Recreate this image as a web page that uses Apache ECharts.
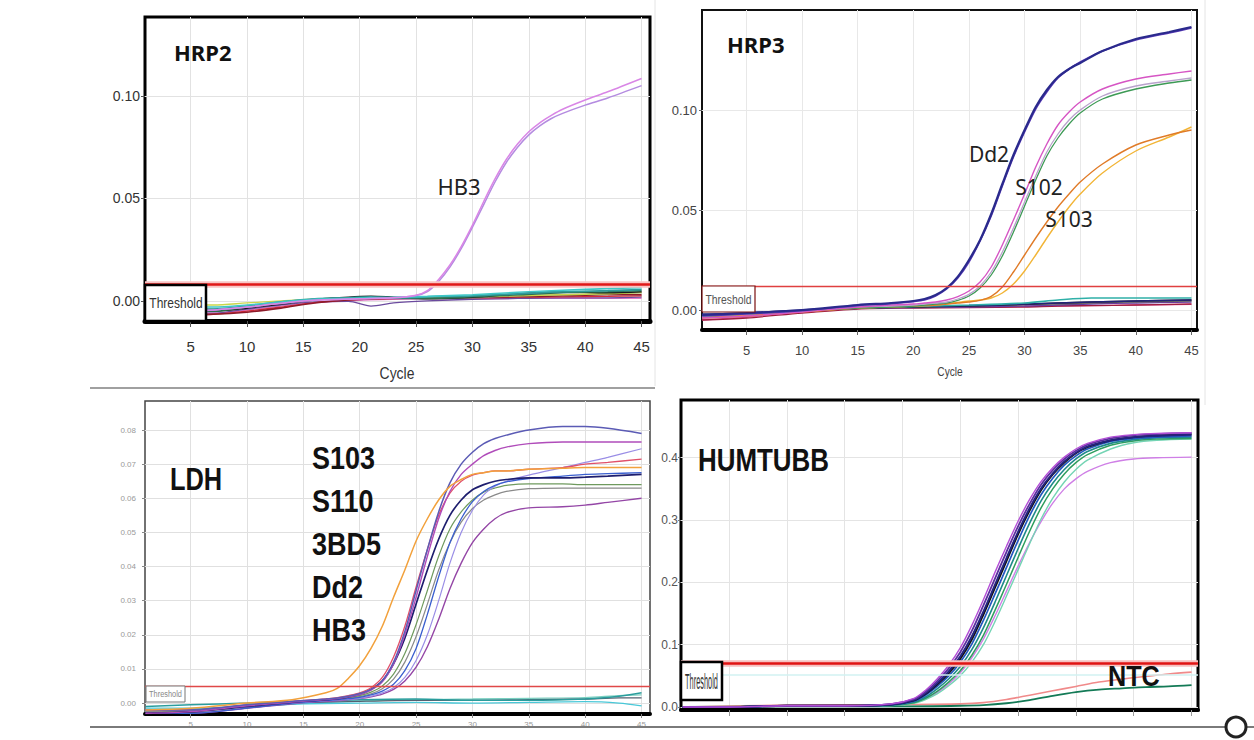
<!DOCTYPE html>
<html><head><meta charset="utf-8">
<script src="https://cdn.jsdelivr.net/npm/echarts@6.0.0/dist/echarts.min.js"></script>
<style>html,body{margin:0;padding:0;background:#fff}#c{width:1254px;height:740px}</style>
</head><body><div id="c"></div>
<script>
// ---------------- shared ----------------
const cycleTicks = [5, 10, 15, 20, 25, 30, 35, 40, 45];
const panelTitles = ['HRP2', 'HRP3', 'LDH', 'HUMTUBB'];
const ldhStrains = ['S103', 'S110', '3BD5', 'Dd2', 'HB3'];

// ---------------- HRP2 ----------------
const hrp2YTicks = [0, 0.05, 0.10];
const hrp2Threshold = 0.008;
const hrp2Cycles = [1, 5, 10, 15, 20, 23, 25, 26, 27, 28, 29, 30, 31, 32, 33, 34, 35, 36, 37, 38, 40, 42, 45];
const hrp2HB3a = [-0.005, -0.005, -0.003, 0.000, 0.001, 0.0015, 0.0028, 0.005, 0.0105, 0.0175, 0.0265, 0.037, 0.0485, 0.0595, 0.069, 0.0765, 0.0825, 0.087, 0.0905, 0.0935, 0.098, 0.102, 0.1085];
const hrp2HB3b = [-0.005, -0.005, -0.003, 0.000, 0.001, 0.0015, 0.0026, 0.0045, 0.0095, 0.0165, 0.0255, 0.036, 0.047, 0.058, 0.0675, 0.075, 0.081, 0.0855, 0.089, 0.0915, 0.0955, 0.099, 0.105];
const hrp2BaseCycles = [1, 7, 10, 13, 16, 19, 21, 23, 26, 30, 34, 38, 42, 45];
const hrp2YellowGreen = [-0.002, -0.002, -0.001, 0.0, 0.0008, 0.001, 0.0012, 0.0015, 0.0015, 0.002, 0.0025, 0.003, 0.0035, 0.004];
const hrp2Teal = [-0.004, -0.004, -0.0025, -0.0005, 0.001, 0.0015, 0.002, 0.0015, 0.002, 0.0025, 0.0035, 0.0045, 0.005, 0.0055];
const hrp2Cyan = [-0.003, -0.003, -0.002, -0.0005, 0.0008, 0.0012, 0.0015, 0.0018, 0.0022, 0.003, 0.0042, 0.0052, 0.006, 0.0065];
const hrp2DarkGreen = [-0.005, -0.005, -0.003, -0.001, 0.0008, 0.0015, 0.0018, 0.0015, 0.0012, 0.002, 0.003, 0.004, 0.0045, 0.005];
const hrp2Black = [-0.005, -0.005, -0.0035, -0.0015, 0.0005, 0.0018, 0.0022, 0.0018, 0.0012, 0.0018, 0.0035, 0.0045, 0.004, 0.0045];
const hrp2Gray = [-0.004, -0.004, -0.003, -0.001, 0.0008, 0.0015, 0.0015, 0.0012, 0.001, 0.0015, 0.0025, 0.003, 0.0035, 0.004];
const hrp2DarkRed = [-0.007, -0.0065, -0.0055, -0.0035, -0.001, 0.0005, 0.001, 0.0012, 0.0015, 0.0018, 0.002, 0.0025, 0.003, 0.003];
const hrp2Red = [-0.007, -0.0065, -0.005, -0.003, -0.0008, 0.0005, 0.001, 0.0012, 0.0015, 0.0015, 0.0018, 0.002, 0.0022, 0.0025];
const hrp2Purple = [-0.006, -0.006, -0.004, -0.002, -0.0005, -0.0002, -0.0025, -0.001, 0.0, 0.0008, 0.0012, 0.0015, 0.0015, 0.0018];
const hrp2Pink = [-0.006, -0.006, -0.0045, -0.0025, -0.0008, 0.0, 0.0005, 0.0008, 0.001, 0.001, 0.0012, 0.0012, 0.0012, 0.0012];

// ---------------- HRP3 ----------------
const hrp3YTicks = [0, 0.05, 0.10];
const hrp3Threshold = 0.012;
const hrp3Cycles = [1, 5, 10, 15, 18, 20, 21, 22, 23, 24, 25, 26, 27, 28, 29, 30, 31, 32, 33, 34, 35, 37, 40, 43, 45];
const hrp3Dd2a = [-0.0025, -0.0015, 0.0, 0.0025, 0.0035, 0.0045, 0.0055, 0.0075, 0.011, 0.0167, 0.025, 0.035, 0.048, 0.063, 0.0775, 0.090, 0.1015, 0.110, 0.1165, 0.1205, 0.1235, 0.1295, 0.1355, 0.139, 0.1415];
const hrp3Dd2b = [-0.003, -0.002, -0.0003, 0.0022, 0.0032, 0.0042, 0.005, 0.007, 0.0105, 0.016, 0.024, 0.0345, 0.047, 0.062, 0.0765, 0.089, 0.1005, 0.109, 0.116, 0.1205, 0.124, 0.1295, 0.135, 0.1385, 0.141];
const hrp3S102a = [-0.004, -0.003, -0.001, 0.0015, 0.0025, 0.003, 0.0035, 0.004, 0.005, 0.0067, 0.0095, 0.014, 0.0215, 0.0325, 0.045, 0.058, 0.0715, 0.083, 0.0925, 0.099, 0.104, 0.1105, 0.1155, 0.118, 0.1195];
const hrp3S102b = [-0.003, -0.002, -0.0005, 0.0015, 0.002, 0.0025, 0.003, 0.0035, 0.004, 0.0055, 0.0078, 0.012, 0.019, 0.029, 0.041, 0.054, 0.067, 0.079, 0.088, 0.095, 0.1, 0.107, 0.112, 0.1145, 0.116];
const hrp3S102c = [-0.003, -0.002, -0.0005, 0.001, 0.0015, 0.002, 0.0025, 0.003, 0.0035, 0.0048, 0.007, 0.011, 0.0175, 0.027, 0.039, 0.052, 0.065, 0.077, 0.086, 0.093, 0.0985, 0.1055, 0.1105, 0.1135, 0.115];
const hrp3S103a = [-0.004, -0.003, -0.001, 0.001, 0.0015, 0.002, 0.0022, 0.0025, 0.003, 0.0035, 0.004, 0.0048, 0.0068, 0.0115, 0.019, 0.0275, 0.036, 0.044, 0.0515, 0.058, 0.064, 0.073, 0.0825, 0.0875, 0.090];
const hrp3S103b = [-0.003, -0.0025, -0.0008, 0.001, 0.0015, 0.002, 0.0022, 0.0025, 0.003, 0.0038, 0.0045, 0.005, 0.006, 0.0085, 0.013, 0.0195, 0.0275, 0.036, 0.044, 0.0515, 0.058, 0.0685, 0.0795, 0.0865, 0.0915];
const hrp3BaseCycles = [1, 5, 10, 15, 20, 25, 30, 33, 36, 40, 45];
const hrp3Teal = [-0.003, -0.002, -0.0005, 0.001, 0.0018, 0.0025, 0.0035, 0.005, 0.006, 0.006, 0.006];
const hrp3Black = [-0.003, -0.002, -0.0005, 0.001, 0.0015, 0.002, 0.0028, 0.0035, 0.004, 0.0045, 0.005];
const hrp3Gray = [-0.003, -0.002, -0.0005, 0.0008, 0.0015, 0.002, 0.0028, 0.003, 0.0035, 0.004, 0.0045];
const hrp3DarkRed = [-0.005, -0.004, -0.0015, 0.0005, 0.001, 0.0012, 0.0015, 0.002, 0.0022, 0.0025, 0.003];
const hrp3Purple = [-0.0035, -0.0025, -0.0008, 0.0008, 0.0012, 0.0015, 0.002, 0.0025, 0.003, 0.0035, 0.004];
const hrp3Pink = [-0.005, -0.0035, -0.0012, 0.0008, 0.0015, 0.0015, 0.0018, 0.002, 0.0022, 0.0025, 0.0028];
const hrp3Navy = [-0.002, -0.0015, 0.0, 0.0012, 0.0018, 0.0022, 0.003, 0.0035, 0.004, 0.0045, 0.005];

// ---------------- LDH ----------------
const ldhYTicks = [0, 0.01, 0.02, 0.03, 0.04, 0.05, 0.06, 0.07, 0.08];
const ldhThreshold = 0.005;
const ldhCycles = [1, 5, 10, 14, 17, 18, 19, 20, 21, 22, 23, 24, 25, 26, 27, 28, 29, 30, 31, 32, 33, 35, 38, 40, 42, 45];
const ldhOrange = [-0.002, -0.0015, 0.0, 0.001, 0.003, 0.0043, 0.0073, 0.011, 0.016, 0.0225, 0.031, 0.039, 0.0475, 0.054, 0.0595, 0.0635, 0.0655, 0.067, 0.0675, 0.068, 0.068, 0.0685, 0.0688, 0.069, 0.069, 0.069];
const ldhTopBlue = [-0.002, -0.002, -0.0005, 0.0005, 0.0012, 0.0015, 0.002, 0.0028, 0.004, 0.0065, 0.012, 0.021, 0.033, 0.045, 0.056, 0.0645, 0.070, 0.0735, 0.076, 0.0775, 0.0785, 0.080, 0.081, 0.081, 0.0805, 0.079];
const ldhMagenta = [-0.003, -0.0025, -0.0008, 0.0003, 0.001, 0.0013, 0.0018, 0.0025, 0.0038, 0.0062, 0.0115, 0.02, 0.031, 0.043, 0.054, 0.062, 0.067, 0.070, 0.0725, 0.074, 0.075, 0.076, 0.0765, 0.0765, 0.0765, 0.0765];
const ldhRedPink = [-0.002, -0.002, -0.0005, 0.0005, 0.0012, 0.0016, 0.0022, 0.003, 0.0045, 0.0075, 0.0135, 0.0225, 0.034, 0.045, 0.055, 0.0615, 0.065, 0.0668, 0.0675, 0.068, 0.068, 0.0685, 0.069, 0.070, 0.0705, 0.0715];
const ldhNavy = [-0.003, -0.0025, -0.001, 0.0003, 0.001, 0.0013, 0.0018, 0.0026, 0.004, 0.0065, 0.0115, 0.019, 0.029, 0.039, 0.048, 0.055, 0.0595, 0.0625, 0.064, 0.065, 0.0655, 0.066, 0.066, 0.0662, 0.0665, 0.067];
const ldhBlue = [-0.003, -0.003, -0.0015, 0.0, 0.0008, 0.001, 0.0013, 0.0017, 0.0024, 0.0035, 0.0055, 0.0095, 0.016, 0.026, 0.037, 0.047, 0.054, 0.059, 0.062, 0.0638, 0.0648, 0.0658, 0.0665, 0.067, 0.0672, 0.0675];
const ldhLavender = [-0.002, -0.002, -0.001, 0.0, 0.0007, 0.0009, 0.0011, 0.0014, 0.002, 0.003, 0.0045, 0.0075, 0.0125, 0.02, 0.03, 0.041, 0.05, 0.0565, 0.061, 0.0635, 0.065, 0.0668, 0.069, 0.0705, 0.072, 0.0745];
const ldhOlive = [-0.002, -0.002, -0.0008, 0.0003, 0.001, 0.0012, 0.0016, 0.0022, 0.0032, 0.005, 0.0085, 0.0145, 0.023, 0.033, 0.043, 0.051, 0.056, 0.0595, 0.0618, 0.063, 0.0638, 0.0642, 0.0642, 0.064, 0.064, 0.064];
const ldhGray = [-0.0025, -0.0025, -0.001, 0.0, 0.0008, 0.001, 0.0014, 0.0019, 0.0027, 0.0042, 0.007, 0.012, 0.0195, 0.029, 0.039, 0.047, 0.053, 0.057, 0.0595, 0.061, 0.062, 0.0628, 0.063, 0.063, 0.063, 0.063];
const ldhPurple = [-0.003, -0.003, -0.0015, -0.0002, 0.0005, 0.0007, 0.001, 0.0013, 0.0018, 0.0026, 0.004, 0.0065, 0.0105, 0.0165, 0.0245, 0.0335, 0.041, 0.047, 0.051, 0.054, 0.0558, 0.0572, 0.0575, 0.058, 0.0588, 0.060];
const ldhBaseCycles = [1, 5, 10, 15, 20, 25, 30, 35, 40, 43, 45];
const ldhTeal = [-0.001, -0.0005, 0.0, 0.0005, 0.001, 0.0012, 0.0008, 0.0008, 0.0012, 0.002, 0.003];
const ldhCyan = [-0.0015, -0.0015, -0.001, -0.0002, 0.0, 0.0002, 0.0, 0.0002, 0.0004, 0.0, -0.0008];
const ldhDarkGray = [-0.002, -0.0018, -0.001, 0.0, 0.0005, 0.0008, 0.0008, 0.001, 0.0012, 0.0015, 0.0015];
const ldhLightTeal = [-0.0025, -0.002, -0.0012, 0.0, 0.0006, 0.001, 0.0012, 0.0014, 0.0016, 0.0022, 0.0024];

// ---------------- HUMTUBB ----------------
const humYTicks = [0, 0.1, 0.2, 0.3, 0.4];
const humThreshold = 0.07;
const humPaleLine = 0.052;
const humCycles = [1, 5, 10, 15, 19, 21, 22, 23, 24, 25, 26, 27, 28, 29, 30, 31, 32, 33, 34, 35, 36, 38, 40, 42, 45];
const humViolet = [0, 0, 0.002, 0.002, 0.005, 0.014, 0.027, 0.045, 0.067, 0.095, 0.131, 0.172, 0.216, 0.258, 0.298, 0.333, 0.362, 0.384, 0.401, 0.414, 0.423, 0.433, 0.437, 0.439, 0.44];
const humPurple = [0, 0, 0.002, 0.002, 0.0045, 0.0125, 0.0245, 0.0415, 0.062, 0.088, 0.122, 0.163, 0.206, 0.249, 0.29, 0.326, 0.357, 0.38, 0.398, 0.411, 0.421, 0.431, 0.436, 0.438, 0.44];
const humNavy = [0, 0, 0.002, 0.002, 0.004, 0.011, 0.022, 0.038, 0.057, 0.081, 0.113, 0.153, 0.196, 0.239, 0.281, 0.319, 0.351, 0.375, 0.394, 0.408, 0.418, 0.428, 0.433, 0.435, 0.437];
const humBlack = [0, 0, 0.002, 0.002, 0.0038, 0.0105, 0.021, 0.036, 0.054, 0.077, 0.108, 0.148, 0.191, 0.234, 0.277, 0.315, 0.348, 0.373, 0.392, 0.407, 0.417, 0.428, 0.433, 0.436, 0.438];
const humBlue = [0, 0, 0.002, 0.002, 0.0035, 0.0095, 0.019, 0.033, 0.05, 0.072, 0.101, 0.139, 0.181, 0.224, 0.267, 0.307, 0.341, 0.367, 0.388, 0.403, 0.414, 0.426, 0.431, 0.433, 0.435];
const humTeal = [0, 0, 0.002, 0.002, 0.003, 0.008, 0.016, 0.029, 0.045, 0.065, 0.092, 0.127, 0.168, 0.211, 0.254, 0.295, 0.331, 0.359, 0.381, 0.398, 0.41, 0.423, 0.429, 0.432, 0.433];
const humGreen = [0, 0, 0.002, 0.002, 0.0028, 0.007, 0.014, 0.025, 0.04, 0.058, 0.083, 0.115, 0.155, 0.197, 0.24, 0.282, 0.32, 0.35, 0.374, 0.392, 0.405, 0.42, 0.427, 0.43, 0.431];
const humLightCyan = [0, 0, 0.002, 0.002, 0.0025, 0.006, 0.012, 0.021, 0.034, 0.05, 0.072, 0.1, 0.137, 0.178, 0.22, 0.262, 0.302, 0.335, 0.361, 0.381, 0.396, 0.414, 0.424, 0.428, 0.43];
const humLilac = [0, 0, 0.002, 0.002, 0.003, 0.007, 0.013, 0.023, 0.037, 0.055, 0.079, 0.109, 0.146, 0.186, 0.226, 0.264, 0.298, 0.327, 0.35, 0.366, 0.378, 0.392, 0.398, 0.4, 0.401];
const ntcCycles = [1, 10, 20, 25, 27, 29, 31, 33, 35, 37, 39, 41, 43, 45];
const ntcPink = [0.0, 0.003, 0.004, 0.005, 0.007, 0.012, 0.019, 0.026, 0.033, 0.040, 0.045, 0.049, 0.053, 0.056];
const ntcGreen = [0.0, 0.001, 0.001, 0.002, 0.003, 0.006, 0.011, 0.018, 0.024, 0.028, 0.030, 0.032, 0.033, 0.035];

// ---------------- build ----------------
const NARROW = "'Liberation Sans Narrow','Liberation Sans',Arial,sans-serif";
const SANS = "'Noto Sans','Open Sans',sans-serif";

function line(gi, xs, ys, color, width, z) {
  return {
    type: 'line', xAxisIndex: gi, yAxisIndex: gi,
    data: xs.map((x, i) => [x, ys[i]]),
    symbol: 'none', showSymbol: false, smooth: 0.3,
    clip: true, silent: true, animation: false, z: z || 2,
    lineStyle: { color: color, width: width || 1.3 }
  };
}
function thr(gi, value, color, width, glow, extra) {
  const d = [];
  if (extra) d.push({ yAxis: extra.value, lineStyle: { color: extra.color, width: extra.width, type: 'solid' } });
  if (glow) d.push({ yAxis: value, lineStyle: { color: glow, width: width + 4, type: 'solid' } });
  d.push({ yAxis: value, lineStyle: { color: color, width: width, type: 'solid' } });
  return {
    type: 'line', xAxisIndex: gi, yAxisIndex: gi, data: [], z: 3, silent: true, animation: false,
    markLine: { symbol: ['none', 'none'], precision: 5, silent: true, animation: false, label: { show: false }, data: d }
  };
}
function xAx(gi, min, max, o) {
  return {
    type: 'value', gridIndex: gi, min: min, max: max, splitNumber: 9,
    axisLine: { show: true, onZero: false, lineStyle: { color: '#000', width: o.lw } },
    axisTick: { show: true, customValues: cycleTicks, length: o.tl, lineStyle: { color: o.tc, width: 1 } },
    axisLabel: { show: o.show, customValues: cycleTicks, fontSize: o.fs, color: o.lc, margin: o.m, fontFamily: NARROW },
    splitLine: { show: true, lineStyle: { color: o.gc, width: 1 } }
  };
}
function yAx(gi, min, max, split, ticks, o) {
  return {
    type: 'value', gridIndex: gi, min: min, max: max, splitNumber: split,
    axisLine: { show: false },
    axisTick: { show: true, customValues: ticks, length: o.tl, lineStyle: { color: o.tc, width: 1 } },
    axisLabel: { show: true, customValues: ticks, fontSize: o.fs, color: o.lc, margin: o.m, fontFamily: NARROW,
      formatter: v => Number(v).toFixed(o.dec) },
    splitLine: { show: true, lineStyle: { color: o.gc, width: 1 } }
  };
}

const series = [
  // HRP2
  thr(0, hrp2Threshold, '#e01818', 2.5, '#f8c4c4'),
  line(0, hrp2BaseCycles, hrp2Pink, '#e07ac8'),
  line(0, hrp2BaseCycles, hrp2Purple, '#6b4a9e'),
  line(0, hrp2BaseCycles, hrp2Red, '#d42a3a'),
  line(0, hrp2BaseCycles, hrp2DarkRed, '#8e1b2a', 1.6),
  line(0, hrp2BaseCycles, hrp2Gray, '#7a7a7a'),
  line(0, hrp2BaseCycles, hrp2YellowGreen, '#c9d64a'),
  line(0, hrp2BaseCycles, hrp2Black, '#1a1a1a', 1.6),
  line(0, hrp2BaseCycles, hrp2DarkGreen, '#2d6e4e', 1.6),
  line(0, hrp2BaseCycles, hrp2Teal, '#2f9b9b', 1.8),
  line(0, hrp2BaseCycles, hrp2Cyan, '#3fc6c6', 1.6),
  line(0, hrp2Cycles, hrp2HB3b, '#b48be0', 1.5),
  line(0, hrp2Cycles, hrp2HB3a, '#d986e6', 1.5),
  // HRP3
  thr(1, hrp3Threshold, '#e04040', 1.4),
  line(1, hrp3BaseCycles, hrp3Pink, '#e060a0'),
  line(1, hrp3BaseCycles, hrp3DarkRed, '#a01c40'),
  line(1, hrp3BaseCycles, hrp3Purple, '#6a3aa0'),
  line(1, hrp3BaseCycles, hrp3Gray, '#666666'),
  line(1, hrp3BaseCycles, hrp3Black, '#222222', 1.6),
  line(1, hrp3BaseCycles, hrp3Navy, '#23237a', 1.6),
  line(1, hrp3BaseCycles, hrp3Teal, '#2fb0a8', 1.6),
  line(1, hrp3Cycles, hrp3S103b, '#f2b537', 1.4),
  line(1, hrp3Cycles, hrp3S103a, '#e07b28', 1.4),
  line(1, hrp3Cycles, hrp3S102c, '#3d9a55', 1.3),
  line(1, hrp3Cycles, hrp3S102b, '#b9a2cc', 1.3),
  line(1, hrp3Cycles, hrp3S102a, '#d655c4', 1.4),
  line(1, hrp3Cycles, hrp3Dd2b, '#5a3ab8', 1.6),
  line(1, hrp3Cycles, hrp3Dd2a, '#2a2a8c', 2.2),
  // LDH
  thr(2, ldhThreshold, '#e04848', 1.3),
  line(2, ldhBaseCycles, ldhLightTeal, '#7ad0c0'),
  line(2, ldhBaseCycles, ldhDarkGray, '#556070'),
  line(2, ldhBaseCycles, ldhCyan, '#48c8d8'),
  line(2, ldhBaseCycles, ldhTeal, '#2a9d9d', 1.5),
  line(2, ldhCycles, ldhPurple, '#9446a6', 1.4),
  line(2, ldhCycles, ldhGray, '#8a8a8a', 1.2),
  line(2, ldhCycles, ldhOlive, '#6f9a5e', 1.2),
  line(2, ldhCycles, ldhLavender, '#9a8ee6', 1.2),
  line(2, ldhCycles, ldhBlue, '#3a5fcf', 1.3),
  line(2, ldhCycles, ldhNavy, '#1e1e6e', 1.7),
  line(2, ldhCycles, ldhRedPink, '#e0506a', 1.3),
  line(2, ldhCycles, ldhMagenta, '#b04cba', 1.4),
  line(2, ldhCycles, ldhTopBlue, '#5b5bb5', 1.5),
  line(2, ldhCycles, ldhOrange, '#f2a13c', 1.5),
  // HUMTUBB
  thr(3, humThreshold, '#e01414', 2.5, '#f6c0c0', { value: humPaleLine, color: '#d2f2f2', width: 1.5 }),
  line(3, ntcCycles, ntcPink, '#f08a8a', 1.6),
  line(3, ntcCycles, ntcGreen, '#137a56', 1.8),
  line(3, humCycles, humLilac, '#cf7fe6', 1.4),
  line(3, humCycles, humLightCyan, '#74d4b4', 1.4),
  line(3, humCycles, humGreen, '#2f9e5e', 1.5),
  line(3, humCycles, humTeal, '#1f8a8a', 1.6),
  line(3, humCycles, humBlue, '#2457c0', 1.7),
  line(3, humCycles, humBlack, '#111111', 1.8),
  line(3, humCycles, humNavy, '#23237e', 2.0),
  line(3, humCycles, humPurple, '#5b2f9e', 1.8),
  line(3, humCycles, humViolet, '#b34fd6', 1.4)
];

const txt = (x, y, s, size, font, weight, color, align, extra) => Object.assign({
  type: 'text', x: x, y: y, z: 100, silent: true,
  style: { text: s, fontSize: size, fontFamily: font, fontWeight: weight || 'normal', fill: color || '#111',
    align: align || 'left', verticalAlign: 'middle' }
}, extra || {});
const rect = (x, y, w, h, stroke, lw) => ({ type: 'rect', z: 99, silent: true, shape: { x: x, y: y, width: w, height: h },
  style: { fill: '#fff', stroke: stroke, lineWidth: lw } });
const seg = (x1, y1, x2, y2, color, lw) => ({ type: 'line', z: 90, silent: true, shape: { x1: x1, y1: y1, x2: x2, y2: y2 },
  style: { stroke: color, lineWidth: lw } });

const graphic = [
  seg(90, 388, 655, 388, '#a0a0a0', 2),
  seg(655, 0, 655, 386, '#e4e4e4', 1),
  seg(1205, 0, 1205, 405, '#e4e4e4', 1),
  seg(90, 727, 1254, 727, '#7a7a7a', 2),
  { type: 'circle', z: 95, silent: true, shape: { cx: 1236, cy: 727, r: 10 }, style: { fill: '#fff', stroke: '#222', lineWidth: 3 } },
  // titles
  txt(174, 52, panelTitles[0], 22, SANS, 'bold', '#111'),
  txt(727, 44, panelTitles[1], 22, SANS, 'bold', '#111'),
  txt(170, 479, panelTitles[2], 31, NARROW, 'bold', '#111', 'left', { scaleX: 0.82 }),
  txt(698, 460, panelTitles[3], 32, NARROW, 'bold', '#111', 'left', { scaleX: 0.81 }),
  // annotations
  txt(459, 186, 'HB3', 22, SANS, 'normal', '#222', 'center'),
  txt(989, 154, 'Dd2', 21, SANS, 'normal', '#222', 'center'),
  txt(1039, 187, 'S102', 21, SANS, 'normal', '#222', 'center'),
  txt(1069, 219, 'S103', 21, SANS, 'normal', '#222', 'center'),
  txt(1108, 676, 'NTC', 30, NARROW, 'bold', '#111', 'left', { scaleX: 0.84 }),
  ...ldhStrains.map((s, i) => txt(312, 458 + i * 43, s, 31, NARROW, 'bold', '#111', 'left', { scaleX: 0.87 })),
  // axis names
  txt(397, 373, 'Cycle', 17, NARROW, 'normal', '#333', 'center', { scaleX: 0.82 }),
  txt(950, 371, 'Cycle', 13, NARROW, 'normal', '#444', 'center', { scaleX: 0.78 }),
  // threshold boxes
  rect(145, 285, 61, 36, '#000', 2.5),
  txt(176, 303, 'Threshold', 15, NARROW, 'normal', '#333', 'center', { scaleX: 0.8 }),
  rect(702, 286, 53, 26, '#7a1010', 1.2),
  txt(728.5, 299, 'Threshold', 13, NARROW, 'normal', '#555', 'center', { scaleX: 0.8 }),
  rect(146, 686, 39, 16, '#777', 1),
  txt(165.5, 694, 'Threshold', 9, NARROW, 'normal', '#888', 'center', { scaleX: 0.82 }),
  rect(681, 662, 41, 38, '#000', 2.5),
  txt(701.5, 681, 'Threshold', 9, NARROW, 'normal', '#333', 'center', { scaleX: 0.82, scaleY: 2.4 })
];

const option = {
  backgroundColor: '#fff',
  animation: false,
  grid: [
    { left: 145, top: 17, width: 505, height: 304, show: true, borderColor: '#000', borderWidth: 3, outerBoundsMode: 'none' },
    { left: 702, top: 10, width: 495, height: 320, show: true, borderColor: '#111', borderWidth: 2, outerBoundsMode: 'none' },
    { left: 145, top: 401, width: 505, height: 313, show: true, borderColor: '#444', borderWidth: 1.5, outerBoundsMode: 'none' },
    { left: 681, top: 400, width: 517, height: 310, show: true, borderColor: '#000', borderWidth: 3, outerBoundsMode: 'none' }
  ],
  xAxis: [
    xAx(0, 0.95, 45.75, { lw: 5, tl: 6, tc: '#555', show: true, fs: 15, lc: '#333', m: 18, gc: '#e2e2e2' }),
    xAx(1, 1.0, 45.5, { lw: 4, tl: 5, tc: '#666', show: true, fs: 13, lc: '#444', m: 14, gc: '#e8e8e8' }),
    xAx(2, 0.95, 45.75, { lw: 4, tl: 4, tc: '#888', show: true, fs: 8, lc: '#999', m: 6, gc: '#e0e0e0' }),
    xAx(3, 0.85, 45.56, { lw: 4, tl: 6, tc: '#999', show: false, fs: 8, lc: '#999', m: 6, gc: '#e4e4e4' })
  ],
  yAxis: [
    yAx(0, -0.0098, 0.1385, 3, hrp2YTicks, { tl: 4, tc: '#555', fs: 14, lc: '#333', m: 5, gc: '#e2e2e2', dec: 2 }),
    yAx(1, -0.01, 0.15, 3, hrp3YTicks, { tl: 3, tc: '#666', fs: 13, lc: '#444', m: 5, gc: '#e8e8e8', dec: 2 }),
    yAx(2, -0.0032, 0.0885, 9, ldhYTicks, { tl: 3, tc: '#888', fs: 8, lc: '#999', m: 9, gc: '#e0e0e0', dec: 2 }),
    yAx(3, -0.0048, 0.4926, 5, humYTicks, { tl: 3, tc: '#777', fs: 12, lc: '#555', m: 3, gc: '#e4e4e4', dec: 1 })
  ],
  series: series,
  graphic: graphic
};

const chart = echarts.init(document.getElementById('c'), null, { renderer: 'svg', width: 1254, height: 740 });
chart.setOption(option);
</script></body></html>
